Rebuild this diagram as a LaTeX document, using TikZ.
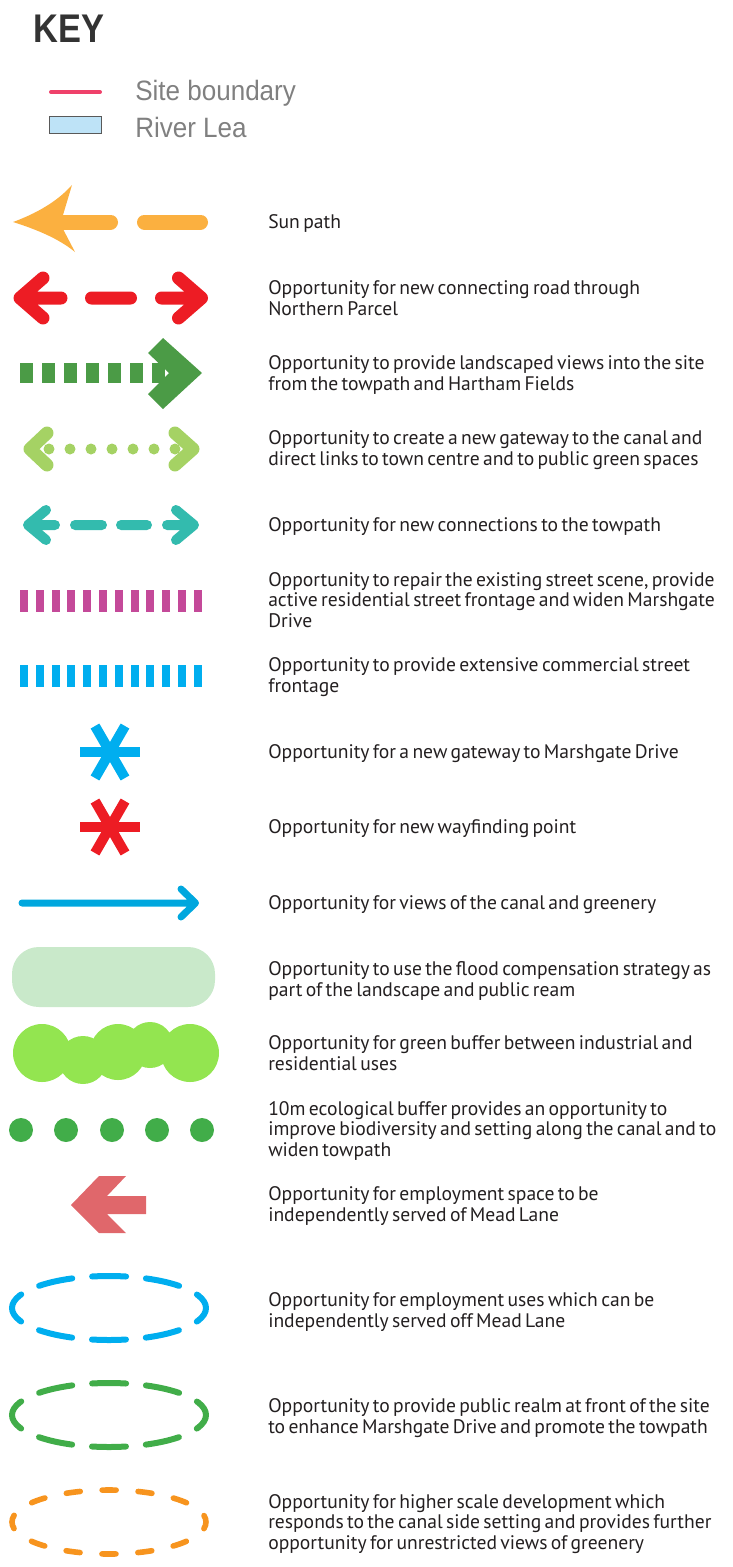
\documentclass[tikz,border=0pt]{standalone}
\usepackage{fontspec}
\setmainfont{PT Sans}
\newfontfamily\keyfont{Liberation Sans}
\newcommand\tightspace{\spaceskip=0.17em plus 0.05em minus 0.03em\relax}
\definecolor{txtgrey}{RGB}{35,31,32}
\definecolor{keygrey}{RGB}{51,51,51}
\definecolor{lightgrey}{RGB}{128,128,128}
\definecolor{sitered}{RGB}{239,65,106}
\definecolor{riverblue}{RGB}{190,227,247}
\definecolor{sunorange}{RGB}{251,176,64}
\definecolor{roadred}{RGB}{237,28,36}
\definecolor{darkgreen}{RGB}{75,155,70}
\definecolor{lightgreen}{RGB}{165,210,100}
\definecolor{teal}{RGB}{51,187,174}
\definecolor{magenta}{RGB}{196,73,153}
\definecolor{cyan}{RGB}{0,174,239}
\definecolor{viewblue}{RGB}{0,167,222}
\definecolor{palegreen}{RGB}{201,233,202}
\definecolor{lime}{RGB}{147,229,80}
\definecolor{dotgreen}{RGB}{65,173,73}
\definecolor{pinkred}{RGB}{224,103,107}
\definecolor{ovalorange}{RGB}{247,148,30}

\begin{document}
\begin{tikzpicture}[x=0.75pt,y=-0.75pt,
  desc/.style={anchor=base west,align=left,inner sep=0pt,text=txtgrey,font=\fontsize{14.7}{15.5}\selectfont\tightspace},
  keyitem/.style={anchor=base west,inner sep=0pt,text=lightgrey,font=\keyfont\fontsize{21}{21}\selectfont},
  chev/.style={line cap=round,line join=round},
  spoke/.style={line width=7.5pt},
  oval/.style={line width=4.5pt,line cap=round,dash pattern=on 25.5pt off 14.95pt,dash phase=12.75pt},
  smalloval/.style={line width=4.2pt,line cap=round,dash pattern=on 10.5pt off 16.47pt,dash phase=5.25pt}]
\useasboundingbox (0,0) rectangle (732,1567);

\node[anchor=base west,inner sep=0pt,text=keygrey,font=\keyfont\bfseries\fontsize{30}{30}\selectfont] (key) at (33,42) {\scalebox{0.86}[1]{KEY}};
\draw[sitered,line width=3pt,line cap=round] (51,92) -- (100,92);
\node[keyitem] (site) at (135,100) {\scalebox{0.93}[1]{Site boundary}};
\draw[fill=riverblue,draw=black!65,line width=0.75pt] (49,116) rectangle (101,133);
\node[keyitem] (river) at (135,137) {\scalebox{0.93}[1]{River Lea}};

% sun path
\fill[sunorange] (13,222) .. controls (35,214) and (57,202) .. (72,185) -- (63,215) -- (63,229) -- (75,252) .. controls (58,238) and (35,229) .. (13,222) -- cycle;
\draw[sunorange,line width=11.25pt,line cap=round] (60,222) -- (110.5,222) (144.5,222) -- (200.5,222);
\node[desc] (sun) at (268,228) {Sun path};

% connecting road
\draw[roadred,chev,line width=9.75pt] (43,278) -- (20,298) -- (43,318) (20,298) -- (61,298)
  (91.5,298) -- (130.5,298) (161.5,298) -- (201.5,298) (178.5,278) -- (201.5,298) -- (178.5,318);
\node[desc] (road) at (268,315) {Opportunity for new connecting road through\\Northern Parcel};

% landscaped views
\foreach \i in {0,...,6} \fill[darkgreen] (20+22*\i,363) rectangle +(13,20);
\fill[darkgreen] (148,353) -- (163,338) -- (202,373) -- (163,409) -- (148,394) -- (169,373) -- cycle;
\node[desc] (views) at (268,390) {Opportunity to provide landscaped views into the site\\from the towpath and Hartham Fields};

% gateway to canal
\draw[lightgreen,chev,line width=9.75pt] (47,433) -- (30,449) -- (47,465) (175,433) -- (193,449) -- (175,465);
\foreach \x in {49,70,...,175} \fill[lightgreen] (\x,449) circle (5.5);
\node[desc] (gateway) at (268,465) {Opportunity to create a new gateway to the canal and\\direct links to town centre and to public green spaces};

% towpath connections
\draw[teal,chev,line width=7.5pt] (46,510) -- (28,525) -- (46,540) (28,525) -- (55,525)
  (75,525) -- (102,525) (121,525) -- (147,525) (167,525) -- (194,525) (176,510) -- (194,525) -- (176,540);
\node[desc] (towpath) at (268,531) {Opportunity for new connections to the towpath};

% street frontage
\foreach \i in {0,...,11} \fill[magenta] (20+15.8*\i,590) rectangle +(8,22);
\node[desc] (resi) at (268,627.4) {Opportunity to repair the existing street scene, provide\\active residential street frontage and widen Marshgate\\Drive};
\foreach \i in {0,...,11} \fill[cyan] (20+15.8*\i,665) rectangle +(8,22);
\node[desc] (comm) at (268,692) {Opportunity to provide extensive commercial street\\frontage};

% gateways and wayfinding
\coordinate (gate) at (110,752);
\coordinate (wayf) at (110,827);
\foreach \a in {0,60,...,300} \draw[cyan,spoke] (gate) -- +(\a:30);
\foreach \a in {0,60,...,300} \draw[roadred,spoke] (wayf) -- +(\a:30);
\node[desc] (marsh) at (268,758) {Opportunity for a new gateway to Marshgate Drive};
\node[desc] (wayfind) at (268,833) {Opportunity for new wayfinding point};

% views of canal
\draw[viewblue,chev,line width=5.25pt] (22,903) -- (195.5,903) (181,889) -- (195.5,903) -- (181,917);
\node[desc] (canal) at (268,909) {Opportunity for views of the canal and greenery};

% flood compensation
\fill[palegreen,rounded corners=20pt] (12,947) rectangle (215,1007);
\node[desc] (flood) at (268,996) {Opportunity to use the flood compensation strategy as\\part of the landscape and public ream};

% green buffer
\fill[lime] (42,1053) circle (29) (83,1060) circle (24) (118,1052) circle (28) (150,1045) circle (23) (190,1053) circle (29);
\node[desc] (buffer) at (268,1070) {Opportunity for green buffer between industrial and\\residential uses};

% ecological buffer
\foreach \x in {21,66,112,157,202} \fill[dotgreen] (\x,1130) circle (12);
\node[desc] (eco) at (268,1156.4) {10m ecological buffer provides an opportunity to\\improve biodiversity and setting along the canal and to\\widen towpath};

% employment space
\fill[pinkred] (71,1205) -- (99,1176) -- (126,1176) -- (107,1196) -- (146,1196) -- (146,1214) -- (107,1214) -- (126,1233) -- (99,1233) -- cycle;
\node[desc] (employ) at (268,1221) {Opportunity for employment space to be\\independently served of Mead Lane};

% ovals
\draw[cyan,oval] (109,1308) ellipse (97 and 32);
\node[desc] (uses) at (268,1327) {Opportunity for employment uses which can be\\independently served off Mead Lane};
\draw[dotgreen,oval] (109,1415) ellipse (97 and 32);
\node[desc] (realm) at (268,1433) {Opportunity to provide public realm at front of the site\\to enhance Marshgate Drive and promote the towpath};
\draw[ovalorange,smalloval] (109,1522) ellipse (97 and 32);
\node[desc] (scale) at (268,1549.4) {Opportunity for higher scale development which\\responds to the canal side setting and provides further\\opportunity for unrestricted views of greenery};
\end{tikzpicture}
\end{document}
